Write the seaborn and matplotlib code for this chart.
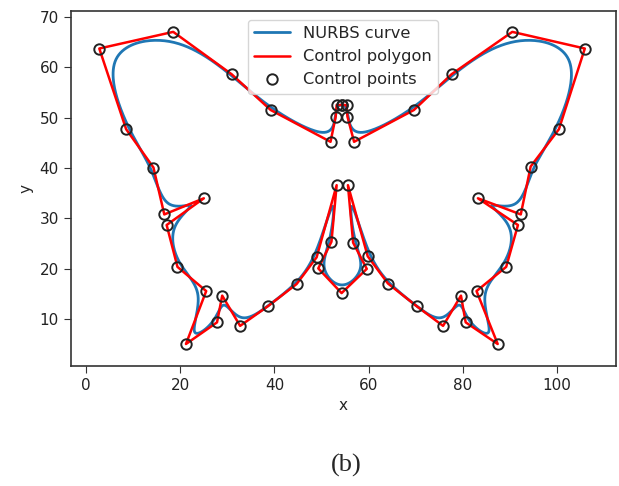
import numpy as np
import pandas as pd
import matplotlib
matplotlib.use("Agg")
import matplotlib.pyplot as plt
import seaborn as sns

# Control points (closed butterfly outline, start = end at the top centre)
ctrl_x = [54.25, 55.3, 55.5, 56.9, 69.6, 77.6, 90.5, 105.9, 100.4, 94.4,
          92.3, 83.2, 91.7, 89.2, 82.9, 87.4, 80.6, 79.6, 75.8, 70.2,
          64.1, 59.8, 55.6, 56.7, 59.6, 54.25, 49.3, 52.1, 53.2, 48.95,
          44.7, 38.6, 32.7, 28.9, 27.8, 21.2, 25.5, 19.4, 17.1, 25.0,
          16.6, 14.3, 8.5, 2.8, 18.5, 30.9, 39.2, 51.9, 53.0, 53.2, 54.25]
ctrl_y = [52.5, 52.5, 50.2, 45.2, 51.5, 58.6, 67.0, 63.7, 47.7, 40.3,
          30.8, 34.0, 28.7, 20.4, 15.6, 5.1, 9.4, 14.7, 8.7, 12.6,
          17.1, 22.5, 36.6, 25.2, 20.0, 15.2, 20.1, 25.4, 36.6, 22.3,
          17.0, 12.6, 8.7, 14.7, 9.4, 5.1, 15.6, 20.4, 28.7, 34.0,
          30.8, 40.1, 47.7, 63.7, 67.0, 58.6, 51.5, 45.2, 50.2, 52.5, 52.5]
weights = [1.0] * len(ctrl_x)
degree = 3


# evaluate a clamped NURBS curve (Cox-de Boor) from the control points
def nurbs_curve(px, py, w, p, n=2000):
    m = len(px)
    knots = np.concatenate([np.zeros(p), np.linspace(0, 1, m - p + 1), np.ones(p)])
    u = np.linspace(0, 1, n)
    N = np.zeros((n, len(knots) - 1))
    for i in range(len(knots) - 1):
        N[:, i] = (knots[i] <= u) & (u < knots[i + 1])
    N[-1, m - 1] = 1.0
    for d in range(1, p + 1):
        Nn = np.zeros((n, len(knots) - 1 - d))
        for i in range(len(knots) - 1 - d):
            d1 = knots[i + d] - knots[i]
            d2 = knots[i + d + 1] - knots[i + 1]
            if d1 > 0:
                Nn[:, i] += (u - knots[i]) / d1 * N[:, i]
            if d2 > 0:
                Nn[:, i] += (knots[i + d + 1] - u) / d2 * N[:, i + 1]
        N = Nn
    Nw = N * np.asarray(w)
    den = Nw.sum(axis=1)
    return Nw @ np.asarray(px) / den, Nw @ np.asarray(py) / den


cx, cy = nurbs_curve(ctrl_x, ctrl_y, weights, degree)
curve_df = pd.DataFrame({"x": cx, "y": cy})
ctrl_df = pd.DataFrame({"x": ctrl_x, "y": ctrl_y})

sns.set_style("ticks")
plt.rcParams["font.family"] = ["DejaVu Sans"]
plt.rcParams["font.size"] = 11

fig = plt.figure(figsize=(6.19, 4.86), dpi=100)
ax = fig.add_axes([0.114, 0.2475, 0.881, 0.7305])

sns.lineplot(data=curve_df, x="x", y="y", sort=False, estimator=None,
             color="#1f77b4", linewidth=2, label="NURBS curve", ax=ax)
sns.lineplot(data=ctrl_df, x="x", y="y", sort=False, estimator=None,
             color="red", linewidth=1.8, label="Control polygon", ax=ax)
ax.plot(ctrl_df["x"], ctrl_df["y"], "o", mfc="none", mec="#222222", mew=1.4,
        ms=7.5, label="Control points")

ax.set_xlim(-3.3, 112.5)
ax.set_ylim(0.8, 71.2)
ax.set_xticks([0, 20, 40, 60, 80, 100])
ax.set_yticks([10, 20, 30, 40, 50, 60, 70])
ax.set_xlabel("x", fontsize=11)
ax.set_ylabel("y", fontsize=11)
ax.tick_params(labelsize=11, length=5, color="#333333", labelcolor="#222222")
for sp in ax.spines.values():
    sp.set_color("#333333")
    sp.set_linewidth(1.2)

ax.legend(loc="upper center", fontsize=11.7, frameon=True, borderaxespad=0.55,
          handlelength=2.2)

fig.text(0.56, 0.043, "(b)", fontsize=19, family=["Liberation Serif"], ha="center", va="center")

fig.savefig("out.png", dpi=100)
